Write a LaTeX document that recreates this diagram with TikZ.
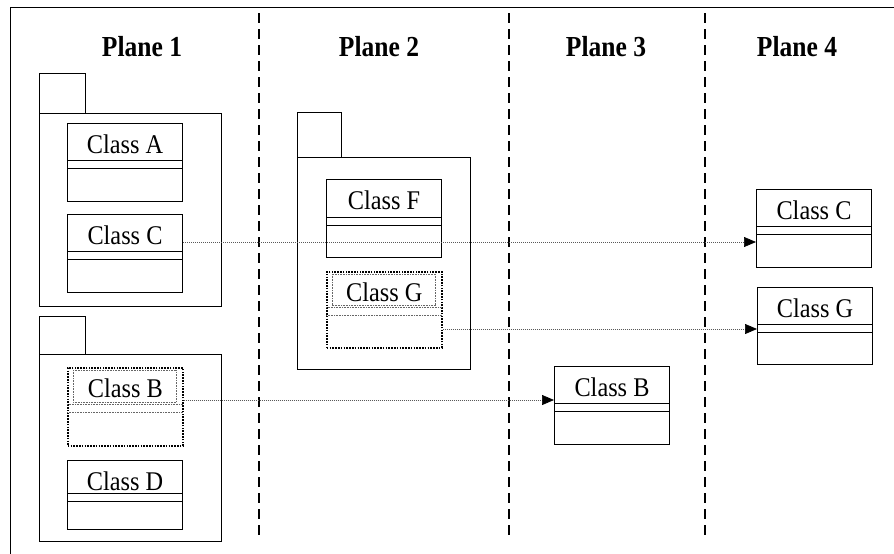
\documentclass[tikz,border=0pt]{standalone}
\usepackage{fontspec}
\setmainfont{Liberation Serif}[FakeStretch=0.9]
\newfontfamily\titlefont{Liberation Serif}[FakeStretch=0.88]
\usetikzlibrary{calc,arrows.meta}

\tikzset{
  classbox/.style={draw, line width=1pt, anchor=north west, minimum width=115pt, inner sep=0pt},
  ghostbox/.style={classbox, dash pattern=on 1.6pt off 1.2pt, line width=1.6pt},
  divider/.style={line width=0.9pt},
  ghostdivider/.style={gray!80!black, dash pattern=on 0.8pt off 0.8pt, line width=0.7pt},
  classname/.style={anchor=base, inner sep=0pt, font=\fontsize{27}{30}\selectfont},
  title/.style={font=\titlefont\fontsize{29}{32}\selectfont\bfseries},
  pkgbox/.style={draw, line width=1pt, anchor=north west, inner sep=0pt},
  planeline/.style={line width=1.2pt, dash pattern=on 10pt off 6pt},
  flow/.style={gray!70!black, line width=0.7pt, dash pattern=on 1pt off 1pt,
    -{Triangle[length=12pt,width=10pt,black]}},
}

% #1 name, #2 top left corner, #3 height, #4 first divider, #5 label
\newcommand{\umlclass}[5]{%
  \node[classbox, minimum height=#3] (#1) at (#2) {};
  \node[classname] (#1-label) at ($(#1.north)+(0,30)$) {#5};
  \draw[divider] ($(#1.north west)+(0,#4)$) -- ($(#1.north east)+(0,#4)$);
  \draw[divider] ($(#1.north west)+(0,#4+8)$) -- ($(#1.north east)+(0,#4+8)$);
}
% same, drawn dotted
\newcommand{\ghostclass}[5]{%
  \node[ghostbox, minimum height=#3] (#1) at (#2) {};
  \draw[ghostdivider] ($(#1.north west)+(6,3)$) rectangle ($(#1.north east)+(-7,#4-2)$);
  \node[classname] (#1-label) at ($(#1.north)+(0,30)$) {#5};
  \draw[ghostdivider] ($(#1.north west)+(0,#4)$) -- ($(#1.north east)+(0,#4)$);
  \draw[ghostdivider] ($(#1.north west)+(0,#4+8)$) -- ($(#1.north east)+(0,#4+8)$);
}

\begin{document}
\begin{tikzpicture}[x=1pt, y=-1pt]
  \useasboundingbox (0,0) rectangle (894,554);

  % Frame
  \draw[line width=1pt] (10,554) -- (10,7) -- (894,7);

  % Planes
  \foreach \x in {259,509,705}
    \draw[planeline] (\x,13) -- (\x,540);
  \foreach \x/\n in {142/1,379/2,606/3,797/4}
    \node[title] (plane\n) at (\x,47) {Plane \n};

  % Packages
  \node[pkgbox, minimum width=46pt, minimum height=40pt] (pkgA-tab) at (39,73) {};
  \node[pkgbox, minimum width=182pt, minimum height=193pt] (pkgA) at (39,113) {};
  \node[pkgbox, minimum width=44pt, minimum height=45pt] (pkgF-tab) at (297,112) {};
  \node[pkgbox, minimum width=173pt, minimum height=212pt] (pkgF) at (297,157) {};
  \node[pkgbox, minimum width=46pt, minimum height=38pt] (pkgB-tab) at (39,316) {};
  \node[pkgbox, minimum width=182pt, minimum height=187pt] (pkgB) at (39,354) {};

  % Classes
  \umlclass{clsA}{67,123}{78pt}{37}{Class A}
  \umlclass{clsC}{67,214}{78pt}{37}{Class C}
  \umlclass{clsF}{326,179}{78pt}{38}{Class F}
  \ghostclass{clsG}{326,271}{76pt}{36}{Class G}
  \ghostclass{clsB}{67,367}{78pt}{37}{Class B}
  \umlclass{clsD}{67,460}{69pt}{33}{Class D}
  \umlclass{clsCr}{756,189}{78pt}{37}{Class C}
  \umlclass{clsGr}{757,287}{77pt}{37}{Class G}
  \umlclass{clsBr}{554,366}{78pt}{37}{Class B}

  % Moves between planes
  \coordinate (cC) at ($(clsC.north east)+(0,28)$);
  \coordinate (cG) at ($(clsG.north east)+(0,58)$);
  \coordinate (cB) at ($(clsB.north east)+(0,33)$);
  \draw[flow] (cC) -- (cC -| clsCr.west);
  \draw[flow] (cG) -- (cG -| clsGr.west);
  \draw[flow] (cB) -- (cB -| clsBr.west);
\end{tikzpicture}
\end{document}
